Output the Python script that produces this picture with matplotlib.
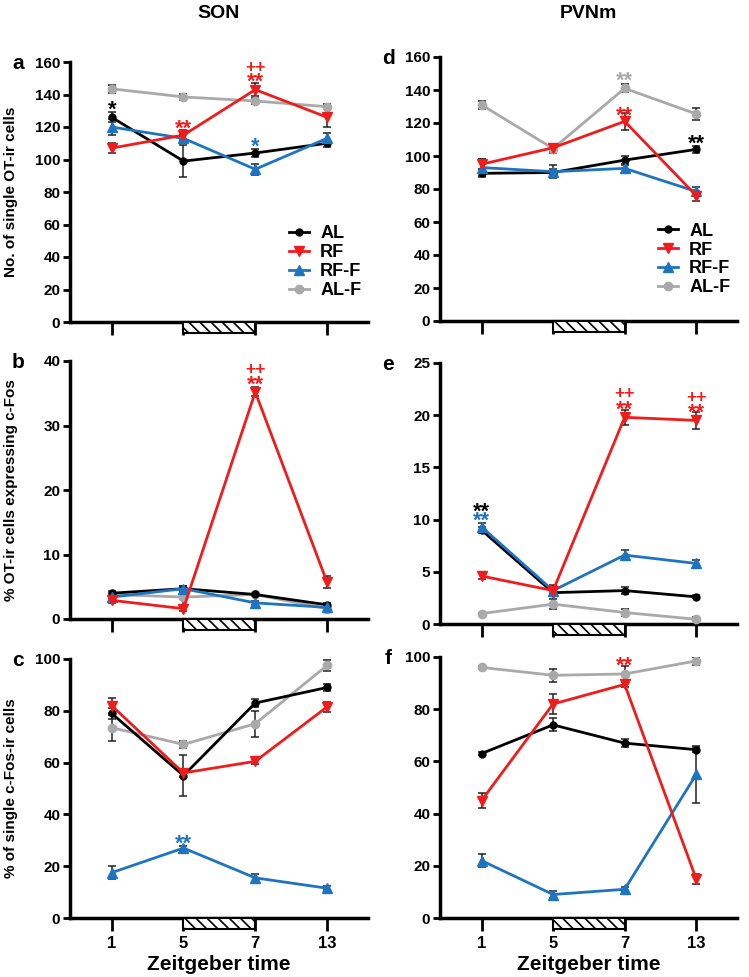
import matplotlib
matplotlib.use("Agg")
import matplotlib.pyplot as plt
import matplotlib.transforms as mtransforms
from matplotlib.patches import Rectangle
from matplotlib.lines import Line2D
import numpy as np

plt.rcParams['font.family'] = ['Liberation Sans', 'DejaVu Sans']
plt.rcParams['font.weight'] = 'bold'
plt.rcParams['axes.labelweight'] = 'bold'
plt.rcParams['hatch.linewidth'] = 1.2

# Zeitgeber time points (plotted as evenly spaced categories)
zt_labels = ['1', '5', '7', '13']
groups = ['AL', 'RF', 'RF-F', 'AL-F']

# ---- SON ----
# a: No. of single OT-ir cells
a_mean = {'AL': [126, 99, 104, 110], 'RF': [107, 115, 143, 126],
          'RF-F': [120, 113, 94, 113], 'AL-F': [143.5, 138.5, 136, 132.5]}
a_err = {'AL': [3, 10, 2.5, 2], 'RF': [3, 3, 4, 6],
         'RF-F': [5, 3, 3.5, 3.5], 'AL-F': [2.5, 2, 2, 1.5]}
# b: % OT-ir cells expressing c-Fos
b_mean = {'AL': [4.0, 4.7, 3.8, 2.2], 'RF': [2.9, 1.6, 35.2, 5.7],
          'RF-F': [3.4, 4.7, 2.5, 1.8], 'AL-F': [3.8, 3.4, 3.8, 1.6]}
b_err = {'AL': [0.4, 0.4, 0.3, 0.3], 'RF': [0.4, 0.3, 0.7, 0.9],
         'RF-F': [0.3, 0.4, 0.3, 0.2], 'AL-F': [0.3, 1.4, 0.3, 0.2]}
# c: % of single c-Fos-ir cells
c_mean = {'AL': [79, 55, 83, 89], 'RF': [82, 56, 60.5, 81.5],
          'RF-F': [17.5, 27, 15.5, 11.5], 'AL-F': [73.5, 67, 75, 97.5]}
c_err = {'AL': [2, 8, 1.5, 1.5], 'RF': [3, 1.5, 1, 2],
         'RF-F': [2.5, 0.8, 1.5, 0.7], 'AL-F': [5, 1.5, 5, 2]}

# ---- PVNm ----
d_mean = {'AL': [89.5, 90, 97.5, 104], 'RF': [95, 105, 121, 76],
          'RF-F': [93, 90.5, 92.5, 78.5], 'AL-F': [131, 104.5, 141, 125.5]}
d_err = {'AL': [2.5, 2, 2.5, 2], 'RF': [3, 2, 5, 3],
         'RF-F': [5, 4, 2, 3], 'AL-F': [2.5, 2.5, 2.5, 3.5]}
e_mean = {'AL': [9.0, 3.0, 3.2, 2.6], 'RF': [4.6, 3.2, 19.8, 19.5],
          'RF-F': [9.3, 3.2, 6.6, 5.8], 'AL-F': [1.0, 1.9, 1.1, 0.45]}
e_err = {'AL': [0.3, 0.3, 0.3, 0.15], 'RF': [0.3, 0.3, 0.7, 0.8],
         'RF-F': [0.4, 0.5, 0.45, 0.35], 'AL-F': [0.1, 0.45, 0.35, 0.2]}
f_mean = {'AL': [63, 74, 67, 64.5], 'RF': [45, 82, 89.5, 15],
          'RF-F': [22, 9, 11, 55], 'AL-F': [96, 93, 93.5, 98.5]}
f_err = {'AL': [0.5, 2.5, 1.5, 1], 'RF': [3, 4, 1, 2],
         'RF-F': [2.5, 1.5, 0.8, 11], 'AL-F': [0.5, 2.5, 3, 1.5]}

# significance marks: (x index, y, text, group)
a_sig = [(0, 133.5, '*', 'AL'), (1, 122, '**', 'RF'), (2, 151, '**', 'RF'),
         (2, 157, '++', 'RF'), (2, 111, '*', 'RF-F')]
b_sig = [(2, 37.1, '**', 'RF'), (2, 38.8, '++', 'RF')]
c_sig = [(1, 30.5, '**', 'RF-F')]
d_sig = [(2, 148.5, '**', 'AL-F'), (2, 127.5, '**', 'RF'), (3, 110.5, '**', 'AL')]
e_sig = [(0, 11.25, '**', 'AL'), (0, 10.35, '**', 'RF-F'), (2, 21.0, '**', 'RF'),
         (2, 22.1, '++', 'RF'), (3, 20.7, '**', 'RF'), (3, 21.8, '++', 'RF')]
f_sig = [(2, 98.5, '**', 'RF')]

colors = {'AL': 'black', 'RF': '#f01c1c', 'RF-F': '#1f74c0', 'AL-F': '#a9a9a9'}
markers = {'AL': 'o', 'RF': 'v', 'RF-F': '^', 'AL-F': 'o'}
msizes = {'AL': 5, 'RF': 7, 'RF-F': 7, 'AL-F': 6}
draw_order = ['AL-F', 'AL', 'RF-F', 'RF']

fig = plt.figure(figsize=(7.49, 9.77), dpi=100)
W, H = 749.0, 977.0


def make_ax(x0, x1, ytop, ybot):
    return fig.add_axes([x0 / W, 1 - ybot / H, (x1 - x0) / W, (ybot - ytop) / H])


panels = [
    ('a', make_ax(70, 368, 62, 322), a_mean, a_err, a_sig, 160, 20, 'No. of single OT-ir cells', False, True),
    ('b', make_ax(70, 368, 361, 619), b_mean, b_err, b_sig, 40, 10, '% OT-ir cells expressing c-Fos', False, False),
    ('c', make_ax(70, 368, 659, 918), c_mean, c_err, c_sig, 100, 20, '% of single c-Fos-ir cells', True, False),
    ('d', make_ax(440, 737, 57, 321), d_mean, d_err, d_sig, 160, 20, None, False, True),
    ('e', make_ax(440, 737, 363, 624), e_mean, e_err, e_sig, 25, 5, None, False, False),
    ('f', make_ax(440, 737, 657, 918), f_mean, f_err, f_sig, 100, 20, None, True, False),
]

x = np.arange(len(zt_labels))

for letter, ax, means, errs, sigs, ymax, ystep, ylabel, bottom, legend in panels:
    for g in draw_order:
        ax.errorbar(x, means[g], yerr=errs[g], color=colors[g], marker=markers[g],
                    markersize=msizes[g], lw=2, ecolor='#222222', elinewidth=1.1,
                    capsize=3, capthick=1.1, zorder=3)
    for xi, yv, txt, g in sigs:
        # shift so the glyph ink sits centred on yv
        if '*' in txt:
            fs, dy = 15.5, -0.5 * 15.5
        else:
            fs, dy = 12.5, -0.3 * 12.5
        ax.annotate(txt, (xi, yv), xytext=(0, dy), textcoords='offset points',
                    color=colors[g], fontsize=fs, fontweight='bold',
                    ha='center', va='baseline', zorder=5, annotation_clip=False)

    ax.set_xlim(-0.58, 3.57)
    ax.set_ylim(0, ymax)
    ax.set_yticks(np.arange(0, ymax + 0.1, ystep))
    ax.set_xticks(x)
    ax.spines['top'].set_visible(False)
    ax.spines['right'].set_visible(False)
    ax.spines['left'].set_linewidth(2.5)
    ax.spines['bottom'].set_linewidth(2.5)
    ax.tick_params(axis='y', length=5, width=2, labelsize=11, pad=2)
    ax.tick_params(axis='x', length=9, width=2, labelsize=12, pad=4)
    if bottom:
        ax.set_xticklabels(zt_labels)
        ax.set_xlabel('Zeitgeber time', fontsize=15, labelpad=3)
    else:
        ax.set_xticklabels([])
    if ylabel:
        ax.set_ylabel(ylabel, fontsize=11)
        ax.yaxis.set_label_coords(-0.175, 0.5)

    # hatched bar marking the period between ZT5 and ZT7
    trans = mtransforms.blended_transform_factory(ax.transData, ax.transAxes)
    h = 11.0 / ax.bbox.height
    ax.add_patch(Rectangle((1, -h), 1, h, transform=trans, facecolor='white',
                           edgecolor='black', hatch='\\\\\\', lw=1.5,
                           clip_on=False, zorder=4))

    ax.text(-0.175, 0.995, letter, transform=ax.transAxes,
            fontsize=15, fontweight='bold', ha='center', va='center')

    if legend:
        handles = [Line2D([], [], color=colors[g], marker=markers[g], lw=2,
                          markersize=msizes[g]) for g in groups]
        leg = ax.legend(handles, groups, loc='upper right',
                        bbox_to_anchor=(1.02, 0.42), frameon=False,
                        fontsize=13, handlelength=1.1, handletextpad=0.6,
                        labelspacing=0.1, borderpad=0.2)
        for t in leg.get_texts():
            t.set_fontweight('bold')

fig.text(219 / W, 1 - 14 / H, 'SON', fontsize=14, fontweight='bold', ha='center', va='center')
fig.text(588 / W, 1 - 14 / H, 'PVNm', fontsize=14, fontweight='bold', ha='center', va='center')

fig.savefig('out.png', dpi=100)
